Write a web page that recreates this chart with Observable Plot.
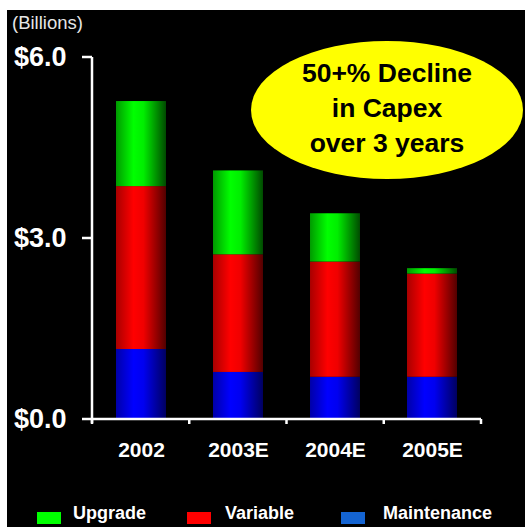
<!DOCTYPE html>
<html>
<head>
<meta charset="utf-8">
<script src="https://cdn.jsdelivr.net/npm/d3@7"></script>
<script src="https://cdn.jsdelivr.net/npm/@observablehq/plot@0.6"></script>
<style>
  html, body { margin: 0; padding: 0; background: #ffffff; }
  #wrap { position: absolute; left: 7px; top: 10px; width: 518px; height: 517px; background: #000; overflow: hidden; font-family: "Liberation Sans", Arial, sans-serif; }
  #chart { position: absolute; left: 0; top: 0; }
  #unit { position: absolute; left: 5px; top: 2px; color: #e6e6e6; font-size: 18.5px; }
  #bubble { position: absolute; left: 244px; top: 31px; width: 272px; height: 138px; border-radius: 50%; background: #ffff00;
            display: flex; flex-direction: column; align-items: center; justify-content: center; color: #000; font-weight: bold; font-size: 26.5px; line-height: 35px; padding-bottom: 3px; box-sizing: border-box; }
  .lg { position: absolute; top: 493px; height: 20px; color: #fff; font-weight: bold; font-size: 18px; line-height: 20px; }
  .sw { position: absolute; top: 502px; width: 24px; height: 12px; }
</style>
</head>
<body>
<div id="wrap">
  <div id="chart"></div>
  <div id="unit">(Billions)</div>
  <div id="bubble"><div>50+% Decline</div><div>in Capex</div><div>over 3 years</div></div>
</div>
<script>
const years = ["2002", "2003E", "2004E", "2005E"];
const series = ["Maintenance", "Variable", "Upgrade"];
const maintenance = [1.16, 0.78, 0.70, 0.70];
const variable = [2.70, 1.95, 1.91, 1.71];
const upgrade = [1.41, 1.39, 0.80, 0.09];
const yTicks = [0, 3, 6];
const yTickLabels = ["$0.0", "$3.0", "$6.0"];
const legendOrder = ["Upgrade", "Variable", "Maintenance"];
const legendColors = {Upgrade: "#00ff00", Variable: "#ff0000", Maintenance: "#1464d2"};
const gradients = {
  Upgrade: ["#009a00", "#00ff00", "#00ee00", "#004a00"],
  Variable: ["#a80000", "#ff0000", "#f00000", "#520000"],
  Maintenance: ["#0000a8", "#0000ff", "#0000f0", "#000060"]
};

const valuesBySeries = {Maintenance: maintenance, Variable: variable, Upgrade: upgrade};
const data = [];
series.forEach(s => years.forEach((y, i) => data.push({year: y, series: s, value: valuesBySeries[s][i]})));

const defsMark = () => {
  const g = d3.create("svg:g");
  const defs = g.append("defs");
  Object.entries(gradients).forEach(([name, c]) => {
    const lg = defs.append("linearGradient").attr("id", "grad-" + name).attr("x1", "0").attr("x2", "1").attr("y1", "0").attr("y2", "0");
    [[0, c[0]], [0.35, c[1]], [0.55, c[2]], [1, c[3]]].forEach(([o, col]) => lg.append("stop").attr("offset", o).attr("stop-color", col));
  });
  return g.node();
};

const axesMark = (index, scales, values, dims) => {
  const left = dims.marginLeft, right = dims.width - dims.marginRight;
  const y0 = scales.y(0), yTop = scales.y(d3.max(yTicks));
  const step = (right - left) / years.length;
  const g = d3.create("svg:g").attr("stroke", "#fff").attr("stroke-width", 2.5).attr("fill", "none");
  g.append("line").attr("x1", left).attr("x2", left).attr("y1", y0 + 4).attr("y2", yTop);
  g.append("line").attr("x1", left).attr("x2", right).attr("y1", y0).attr("y2", y0);
  yTicks.forEach(t => g.append("line").attr("x1", left - 10).attr("x2", left).attr("y1", scales.y(t)).attr("y2", scales.y(t)));
  d3.range(years.length + 1).forEach(i => g.append("line").attr("x1", left + i * step).attr("x2", left + i * step).attr("y1", y0).attr("y2", y0 + 5));
  return g.node();
};

const chart = Plot.plot({
  width: 518,
  height: 470,
  marginLeft: 85,
  marginRight: 44,
  marginTop: 47,
  marginBottom: 61,
  style: {background: "transparent", color: "#fff", fontFamily: "'Liberation Sans', Arial, sans-serif"},
  x: {domain: years, paddingInner: 0.485, paddingOuter: 0.2425},
  y: {domain: [0, 6]},
  color: {type: "identity"},
  marks: [
    defsMark,
    Plot.barY(data, {x: "year", y: "value", fill: d => "url(#grad-" + d.series + ")"}),
    axesMark,
    Plot.axisX({tickSize: 0, tickPadding: 23, fontSize: 21, fontWeight: "bold", fill: "#fff", label: null}),
    Plot.axisY({ticks: yTicks, tickFormat: d => yTickLabels[yTicks.indexOf(d)], tickSize: 0, tickPadding: 26, fontSize: 27, fontWeight: "bold", fill: "#fff", label: null})
  ]
});
document.getElementById("chart").appendChild(chart);

const wrap = document.getElementById("wrap");
const swX = {Upgrade: 30, Variable: 180, Maintenance: 334};
const txX = {Upgrade: 66, Variable: 218, Maintenance: 376};
legendOrder.forEach(name => {
  const sw = document.createElement("div");
  sw.className = "sw"; sw.style.left = swX[name] + "px"; sw.style.background = legendColors[name];
  wrap.appendChild(sw);
  const t = document.createElement("div");
  t.className = "lg"; t.style.left = txX[name] + "px"; t.textContent = name;
  wrap.appendChild(t);
});
</script>
</body>
</html>
